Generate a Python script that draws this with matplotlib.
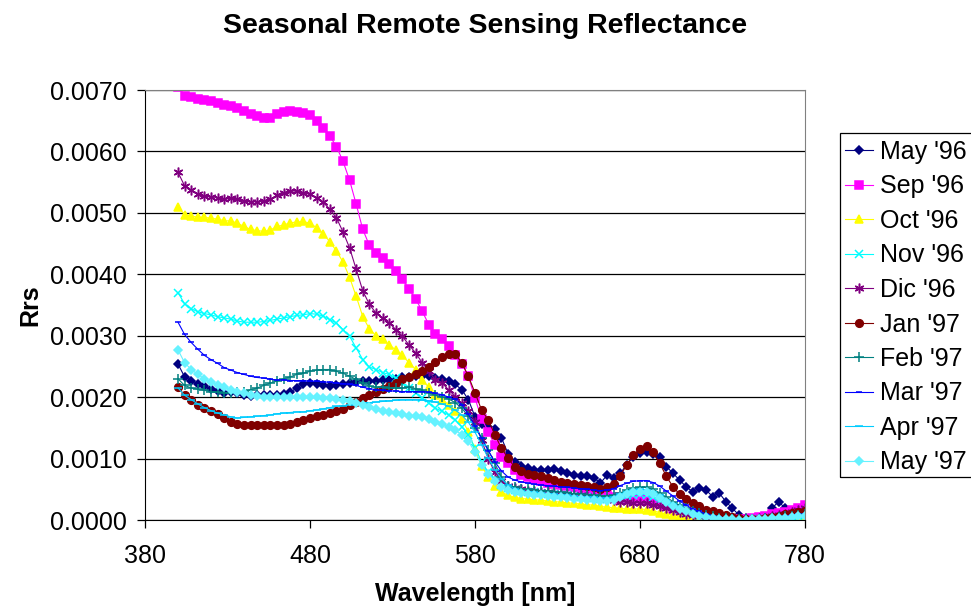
import matplotlib
matplotlib.use("Agg")
import matplotlib.pyplot as plt
from matplotlib.patches import Rectangle
import numpy as np

plt.rcParams['font.family'] = ['Liberation Sans', 'DejaVu Sans']

# wavelengths [nm], one sample every 4 nm
wavelength = [400, 404, 408, 412, 416, 420, 424, 428, 432, 436, 440, 444,
              448, 452, 456, 460, 464, 468, 472, 476, 480, 484, 488, 492,
              496, 500, 504, 508, 512, 516, 520, 524, 528, 532, 536, 540,
              544, 548, 552, 556, 560, 564, 568, 572, 576, 580, 584, 588,
              592, 596, 600, 604, 608, 612, 616, 620, 624, 628, 632, 636,
              640, 644, 648, 652, 656, 660, 664, 668, 672, 676, 680, 684,
              688, 692, 696, 700, 704, 708, 712, 716, 720, 724, 728, 732,
              736, 740, 744, 748, 752, 756, 760, 764, 768, 772, 776, 780]

# Rrs values, in units of 1e-4
may96 = [25.4, 23.3, 22.7, 22.2, 21.8, 21.4, 21.0, 20.7, 20.9, 20.7, 20.4, 20.2,
         20.4, 20.4, 20.4, 20.4, 20.5, 20.8, 21.5, 22.2, 22.3, 22.1, 21.9, 21.8,
         21.9, 22.1, 22.3, 22.5, 22.6, 22.6, 22.7, 22.8, 22.8, 23.0, 23.2, 23.3,
         23.4, 23.5, 23.4, 23.1, 22.9, 22.7, 22.1, 21.2, 19.6, 16.8, 15.7, 15.2,
         14.8, 13.4, 10.8, 9.4, 8.8, 8.4, 8.2, 8.2, 8.2, 8.3, 7.9, 7.6,
         7.3, 7.1, 7.1, 6.9, 6.0, 7.3, 6.8, 7.6, 9.0, 10.3, 10.9, 11.1,
         10.8, 10.3, 8.7, 7.6, 6.5, 5.4, 4.6, 5.2, 4.9, 3.8, 4.4, 3.0,
         1.9, 0.8, 0.3, 0.0, 0.0, 0.3, 1.9, 3.0, 1.9, 0.8, 0.5, 1.1]

sep96 = [70.5, 69.0, 68.9, 68.6, 68.4, 68.2, 67.9, 67.6, 67.4, 67.0, 66.6, 66.1,
         65.7, 65.5, 65.5, 66.1, 66.4, 66.6, 66.5, 66.3, 66.0, 64.9, 63.8, 62.5,
         60.8, 58.4, 55.3, 51.4, 47.3, 44.7, 43.4, 42.7, 41.7, 40.5, 39.2, 37.6,
         36.0, 34.0, 31.8, 30.3, 29.4, 28.3, 26.9, 25.4, 23.4, 19.8, 16.5, 14.4,
         12.2, 10.3, 9.2, 8.2, 7.4, 7.0, 6.7, 6.4, 6.1, 5.9, 5.7, 5.5,
         5.3, 5.1, 4.9, 4.7, 4.4, 4.1, 3.8, 3.5, 3.4, 3.5, 3.6, 3.4,
         3.0, 2.6, 2.2, 1.8, 1.4, 1.0, 0.7, 0.5, 0.3, 0.2, 0.1, 0.1,
         0.1, 0.1, 0.2, 0.3, 0.5, 0.7, 0.9, 1.1, 1.3, 1.6, 2.0, 2.4]

oct96 = [51.0, 49.7, 49.5, 49.3, 49.3, 49.1, 49.0, 48.7, 48.7, 48.3, 47.8, 47.3,
         47.1, 47.0, 47.2, 47.8, 48.0, 48.4, 48.5, 48.6, 48.3, 47.6, 46.6, 45.3,
         43.8, 42.0, 39.5, 36.4, 33.1, 31.1, 30.0, 29.4, 28.5, 27.7, 26.8, 25.6,
         24.5, 22.8, 21.6, 20.4, 19.6, 18.8, 17.8, 16.5, 14.3, 11.5, 8.8, 7.0,
         5.6, 4.6, 4.0, 3.7, 3.5, 3.4, 3.3, 3.2, 3.1, 3.0, 2.9, 2.8,
         2.7, 2.6, 2.5, 2.4, 2.2, 2.1, 2.0, 1.9, 1.8, 1.8, 1.8, 1.7,
         1.5, 1.2, 1.0, 0.8, 0.6, 0.4, 0.3, 0.2, 0.1, 0.1, 0.0, 0.0,
         0.0, 0.0, 0.0, 0.0, 0.1, 0.1, 0.2, 0.3, 0.3, 0.4, 0.5, 0.6]

nov96 = [37.0, 35.2, 34.4, 33.9, 33.6, 33.4, 33.1, 32.9, 32.7, 32.4, 32.2, 32.2,
         32.2, 32.3, 32.5, 32.7, 32.9, 33.1, 33.3, 33.4, 33.6, 33.5, 33.2, 32.6,
         32.1, 31.0, 29.9, 28.0, 26.1, 24.9, 24.5, 24.0, 23.7, 23.1, 22.3, 21.5,
         20.7, 19.9, 19.0, 18.2, 17.7, 17.1, 16.3, 15.2, 13.8, 11.8, 9.5, 7.8,
         6.6, 5.7, 5.2, 4.9, 4.7, 4.6, 4.5, 4.4, 4.3, 4.2, 4.1, 4.0,
         3.9, 3.8, 3.7, 3.6, 3.5, 3.4, 3.4, 3.6, 3.9, 4.1, 4.2, 4.1,
         3.8, 3.3, 2.7, 2.1, 1.6, 1.2, 0.9, 0.6, 0.4, 0.3, 0.2, 0.1,
         0.1, 0.0, 0.0, 0.0, 0.1, 0.2, 0.3, 0.4, 0.5, 0.6, 0.7, 0.8]

dic96 = [56.6, 54.4, 53.7, 53.0, 52.7, 52.6, 52.5, 52.2, 52.4, 52.2, 51.9, 51.8,
         51.8, 51.9, 52.2, 52.9, 53.3, 53.6, 53.5, 53.3, 53.0, 52.5, 51.7, 50.6,
         49.2, 46.9, 44.3, 40.8, 37.3, 35.1, 33.7, 32.9, 32.1, 31.0, 29.9, 28.5,
         27.2, 25.6, 24.2, 22.8, 22.3, 21.2, 20.1, 19.0, 17.8, 16.0, 13.0, 10.0,
         7.8, 6.4, 5.6, 5.2, 5.0, 4.8, 4.7, 4.6, 4.5, 4.4, 4.3, 4.2,
         4.1, 4.0, 3.9, 3.8, 3.6, 3.4, 3.2, 3.0, 2.9, 2.8, 2.8, 2.7,
         2.5, 2.2, 1.9, 1.6, 1.3, 1.0, 0.8, 0.6, 0.4, 0.3, 0.2, 0.1,
         0.1, 0.1, 0.1, 0.2, 0.3, 0.4, 0.6, 0.8, 1.0, 1.3, 1.6, 1.9]

jan97 = [21.6, 20.3, 19.5, 18.8, 18.2, 17.7, 17.2, 16.6, 16.0, 15.7, 15.5, 15.4,
         15.4, 15.4, 15.4, 15.5, 15.5, 15.7, 15.9, 16.2, 16.6, 16.9, 17.1, 17.4,
         17.7, 18.1, 18.7, 19.2, 19.8, 20.3, 20.8, 21.4, 21.8, 22.3, 22.9, 23.3,
         23.7, 24.2, 24.9, 25.7, 26.5, 27.0, 27.0, 25.6, 23.4, 20.7, 17.9, 16.3,
         13.9, 11.7, 10.1, 8.6, 7.9, 7.5, 7.3, 7.1, 6.8, 6.5, 6.2, 6.1,
         5.9, 5.7, 5.5, 5.4, 5.0, 5.4, 5.9, 7.2, 9.0, 10.6, 11.5, 12.0,
         11.0, 9.2, 7.1, 5.4, 4.2, 3.4, 2.7, 2.2, 1.7, 1.4, 1.1, 0.8,
         0.5, 0.4, 0.1, 0.1, 0.1, 0.3, 0.5, 0.7, 0.9, 1.1, 1.3, 1.5]

feb97 = [23.0, 21.9, 21.5, 21.3, 21.1, 20.9, 20.8, 20.7, 20.7, 20.8, 20.9, 21.2,
         21.5, 21.9, 22.3, 22.6, 23.0, 23.3, 23.7, 23.9, 24.2, 24.4, 24.5, 24.5,
         24.2, 23.9, 23.4, 22.9, 22.3, 21.8, 21.6, 21.6, 21.5, 21.5, 21.5, 21.6,
         21.4, 21.1, 20.7, 20.3, 20.0, 19.7, 19.1, 18.2, 16.9, 15.0, 13.4, 11.4,
         9.2, 7.0, 5.6, 5.3, 5.1, 5.0, 4.9, 4.8, 4.7, 4.6, 4.5, 4.4,
         4.3, 4.2, 4.1, 4.0, 3.9, 3.9, 4.0, 4.4, 4.9, 5.2, 5.3, 5.3,
         5.0, 4.4, 3.7, 3.0, 2.4, 1.9, 1.5, 1.1, 0.8, 0.6, 0.4, 0.3,
         0.2, 0.1, 0.1, 0.1, 0.2, 0.3, 0.4, 0.5, 0.6, 0.7, 0.8, 0.9]

mar97 = [32.2, 30.2, 28.9, 27.8, 26.8, 26.1, 25.5, 24.8, 24.4, 24.0, 23.7, 23.4,
         23.2, 23.1, 22.9, 22.8, 22.8, 22.7, 22.7, 22.7, 22.6, 22.6, 22.5, 22.4,
         22.3, 22.2, 22.1, 21.9, 21.6, 21.4, 21.2, 21.1, 21.0, 21.0, 20.9, 20.9,
         20.9, 20.9, 20.8, 20.6, 20.4, 20.0, 19.7, 18.8, 17.2, 15.3, 13.3, 11.3,
         9.5, 8.0, 7.0, 6.5, 6.2, 6.0, 5.8, 5.7, 5.6, 5.5, 5.4, 5.3,
         5.2, 5.1, 5.0, 4.9, 4.8, 4.9, 5.1, 5.6, 6.0, 6.3, 6.4, 6.4,
         6.1, 5.5, 4.7, 3.9, 3.1, 2.4, 1.8, 1.4, 1.0, 0.7, 0.5, 0.3,
         0.2, 0.1, 0.1, 0.1, 0.2, 0.3, 0.4, 0.5, 0.6, 0.8, 0.9, 1.0]

apr97 = [21.5, 20.3, 19.6, 18.9, 18.3, 17.8, 17.4, 17.1, 16.8, 16.6, 16.7, 16.8,
         16.9, 17.0, 17.1, 17.3, 17.4, 17.5, 17.6, 17.6, 17.8, 17.9, 18.1, 18.3,
         18.5, 18.6, 18.8, 18.9, 19.0, 19.1, 19.2, 19.3, 19.4, 19.5, 19.6, 19.6,
         19.6, 19.5, 19.4, 19.2, 18.9, 18.5, 17.9, 17.1, 15.9, 14.3, 12.2, 10.1,
         8.2, 6.7, 5.7, 5.1, 4.8, 4.6, 4.5, 4.4, 4.3, 4.2, 4.1, 4.0,
         3.9, 3.8, 3.7, 3.7, 3.6, 3.6, 3.8, 4.2, 4.6, 4.9, 5.0, 4.9,
         4.6, 4.0, 3.3, 2.6, 2.0, 1.5, 1.1, 0.8, 0.6, 0.4, 0.3, 0.2,
         0.1, 0.1, 0.0, 0.0, 0.1, 0.2, 0.3, 0.3, 0.4, 0.5, 0.6, 0.7]

may97 = [27.7, 25.6, 24.5, 23.7, 23.0, 22.5, 22.0, 21.6, 21.2, 20.9, 20.7, 20.4,
         20.2, 20.1, 20.1, 20.1, 20.1, 20.1, 20.0, 20.0, 20.0, 20.0, 19.9, 19.8,
         19.7, 19.6, 19.3, 19.0, 18.7, 18.4, 18.1, 17.8, 17.6, 17.4, 17.2, 17.0,
         16.9, 16.7, 16.4, 16.0, 15.6, 15.1, 14.6, 13.9, 12.8, 11.0, 9.0, 7.5,
         6.3, 5.4, 4.9, 4.6, 4.4, 4.2, 4.1, 4.0, 3.9, 3.8, 3.7, 3.6,
         3.5, 3.4, 3.3, 3.2, 3.1, 3.1, 3.3, 3.8, 4.2, 4.5, 4.6, 4.5,
         4.2, 3.6, 2.9, 2.3, 1.8, 1.4, 1.0, 0.7, 0.5, 0.3, 0.2, 0.1,
         0.1, 0.0, 0.0, 0.1, 0.1, 0.2, 0.3, 0.3, 0.4, 0.5, 0.6, 0.7]

labels = ["May '96", "Sep '96", "Oct '96", "Nov '96", "Dic '96",
          "Jan '97", "Feb '97", "Mar '97", "Apr '97", "May '97"]
series = [may96, sep96, oct96, nov96, dic96, jan97, feb97, mar97, apr97, may97]

# excel-like colour / marker for each series
colors = ['#000080', '#FF00FF', '#FFFF00', '#00FFFF', '#800080',
          '#800000', '#008080', '#0000FF', '#00CCFF', '#66F2FF']
markers = ['D', 's', '^', 'x', (6, 2, 0), 'o', '+', '_', '_', 'D']
msizes = [4.5, 5.5, 6, 5.5, 7, 5.5, 7, 5, 6, 4.5]

fig = plt.figure(figsize=(9.71, 6.14), dpi=100)
ax = fig.add_axes([145 / 971, 1 - 520 / 614, 660 / 971, 430 / 614])

wl = np.array(wavelength)
for vals, lab, c, m, ms in zip(series, labels, colors, markers, msizes):
    ax.plot(wl, np.array(vals) * 1e-4, color=c, lw=0.8, marker=m, ms=ms,
            mfc=c, mec=c, mew=1.1, label=lab)

ax.set_xlim(380, 780)
ax.set_ylim(0, 0.007)
ax.set_xticks([380, 480, 580, 680, 780])
ax.set_yticks(np.arange(0, 0.0071, 0.001))
ax.yaxis.set_major_formatter(matplotlib.ticker.FormatStrFormatter('%.4f'))
ax.yaxis.grid(True, color='black', lw=0.9)
ax.set_axisbelow(True)
ax.tick_params(axis='both', direction='out', length=6, width=0.9,
               labelsize=18, pad=7, colors='black')
ax.tick_params(axis='x', pad=11)
for s in ['top', 'right']:
    ax.spines[s].set_color('#808080')
for s in ['left', 'bottom']:
    ax.spines[s].set_color('black')

ax.set_xlabel('Wavelength [nm]', fontsize=18, fontweight='bold')
ax.xaxis.set_label_coords(0.5, -0.145)
ax.set_ylabel('Rrs', fontsize=18, fontweight='bold')
ax.yaxis.set_label_coords(-0.155, 0.5)

fig.text(0.5, 1 - 26 / 614, 'Seasonal Remote Sensing Reflectance',
         ha='center', va='center', fontsize=20.5, fontweight='bold')

# legend without its own frame; the box runs off the right edge like the original
leg = ax.legend(loc='upper left', bbox_to_anchor=(840 / 971, 1 - 135 / 614),
                bbox_transform=fig.transFigure, fontsize=18, frameon=False,
                handlelength=1.1, handletextpad=0.3, labelspacing=0.42,
                borderpad=0.2, borderaxespad=0)
fig.patches.append(Rectangle((840 / 971, 1 - 477 / 614), 140 / 971, 344 / 614,
                             transform=fig.transFigure, fill=False,
                             edgecolor='black', lw=0.9))

fig.savefig('out.png', dpi=100)
